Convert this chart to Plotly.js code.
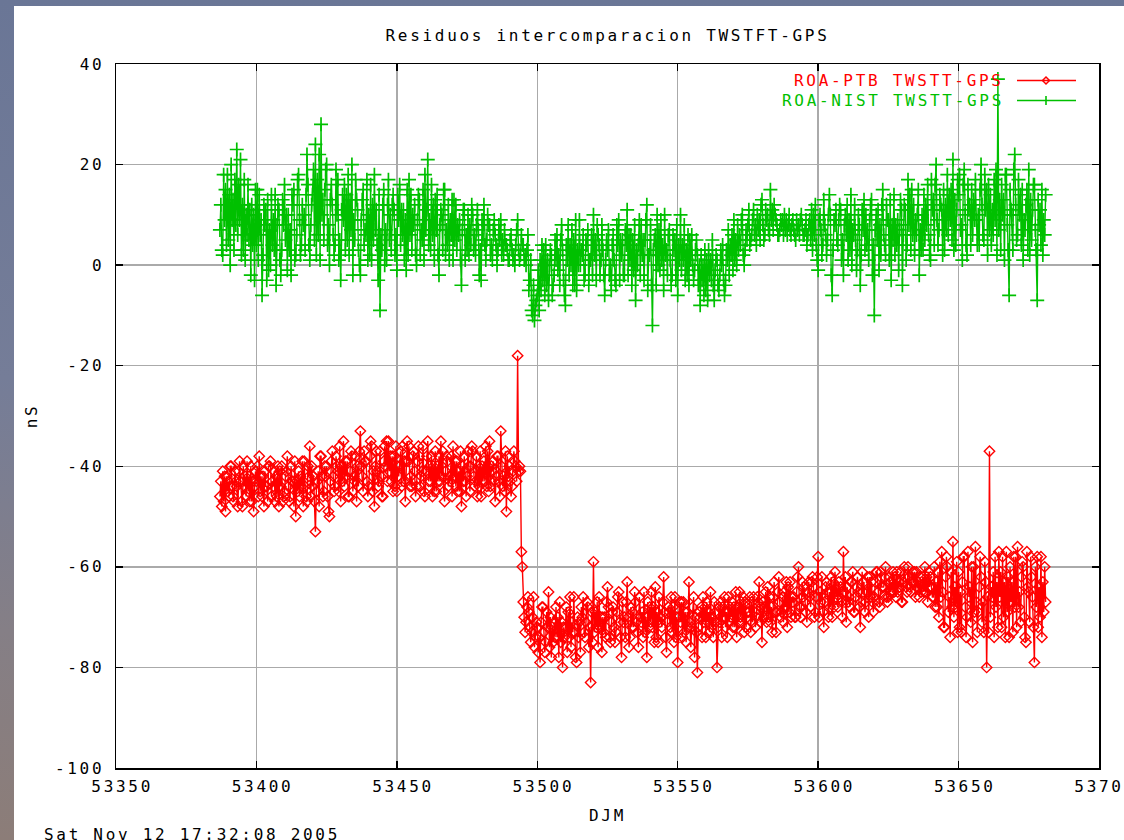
<!DOCTYPE html>
<html>
<head>
<meta charset="utf-8">
<script src="https://cdn.plot.ly/plotly-3.0.1.min.js"></script>
<style>
  html, body { margin:0; padding:0; width:1124px; height:840px; overflow:hidden;
    background: linear-gradient(to bottom, #6a7696 0%, #757d98 45%, #857f86 75%, #8c7d78 100%); }
  #chart { position:absolute; left:14px; top:6px; width:1110px; height:834px; }
  text { letter-spacing: 2.7px; }
</style>
</head>
<body>
<div id="chart"></div>
<script>
// ---- Data (MJD days, residuals in ns) ----
// Three samples per day: at the whole day, +1/3 day and +2/3 day.
const days = [
53387,53388,53389,53390,53391,53392,53393,53394,53395,53396,
53397,53398,53399,53400,53401,53402,53403,53404,53405,53406,
53407,53408,53409,53410,53411,53412,53413,53414,53415,53416,
53417,53418,53419,53420,53421,53422,53423,53424,53425,53426,
53427,53428,53429,53430,53431,53432,53433,53434,53435,53436,
53437,53438,53439,53440,53441,53442,53443,53444,53445,53446,
53447,53448,53449,53450,53451,53452,53453,53454,53455,53456,
53457,53458,53459,53460,53461,53462,53463,53464,53465,53466,
53467,53468,53469,53470,53471,53472,53473,53474,53475,53476,
53477,53478,53479,53480,53481,53482,53483,53484,53485,53486,
53487,53488,53489,53490,53491,53492,53493,53494,53495,53496,
53497,53498,53499,53500,53501,53502,53503,53504,53505,53506,
53507,53508,53509,53510,53511,53512,53513,53514,53515,53516,
53517,53518,53519,53520,53521,53522,53523,53524,53525,53526,
53527,53528,53529,53530,53531,53532,53533,53534,53535,53536,
53537,53538,53539,53540,53541,53542,53543,53544,53545,53546,
53547,53548,53549,53550,53551,53552,53553,53554,53555,53556,
53557,53558,53559,53560,53561,53562,53563,53564,53565,53566,
53567,53568,53569,53570,53571,53572,53573,53574,53575,53576,
53577,53578,53579,53580,53581,53582,53583,53584,53585,53586,
53587,53588,53589,53590,53591,53592,53593,53594,53595,53596,
53597,53598,53599,53600,53601,53602,53603,53604,53605,53606,
53607,53608,53609,53610,53611,53612,53613,53614,53615,53616,
53617,53618,53619,53620,53621,53622,53623,53624,53625,53626,
53627,53628,53629,53630,53631,53632,53633,53634,53635,53636,
53637,53638,53639,53640,53641,53642,53643,53644,53645,53646,
53647,53648,53649,53650,53651,53652,53653,53654,53655,53656,
53657,53658,53659,53660,53661,53662,53663,53664,53665,53666,
53667,53668,53669,53670,53671,53672,53673,53674,53675,53676,
53677,53678,53679,53680,53681
];

// ROA-PTB, first sample of each day
const roaPtb = [
-46,-41,-49,-43,-40,-47,-44,-39,-48,-42,
-45,-40,-49,-43,-38,-46,-41,-47,-39,-44,
-42,-48,-40,-45,-38,-46,-43,-50,-41,-44,
-39,-47,-36,-44,-53,-41,-38,-45,-40,-50,
-37,-44,-41,-47,-35,-42,-46,-38,-43,-40,
-33,-45,-39,-44,-36,-48,-41,-37,-46,-40,
-35,-43,-38,-45,-40,-36,-47,-39,-42,-37,
-44,-38,-41,-46,-35,-43,-40,-45,-38,-42,
-47,-39,-43,-36,-44,-41,-48,-38,-42,-45,
-37,-43,-40,-46,-39,-44,-35,-41,-47,-38,
-33,-42,-49,-40,-44,-39,-18,-41,-67,-71,
-69,-73,-76,-72,-79,-68,-75,-65,-78,-71,
-74,-67,-80,-72,-69,-76,-66,-79,-71,-70,
-74,-68,-83,-59,-72,-66,-77,-70,-64,-75,
-68,-73,-65,-78,-70,-63,-74,-69,-67,-76,
-71,-65,-78,-68,-72,-64,-75,-70,-62,-77,
-69,-73,-66,-79,-71,-67,-75,-63,-72,-78,
-81,-70,-66,-74,-69,-72,-67,-80,-71,-68,
-72,-66,-70,-68,-74,-65,-71,-67,-69,-73,
-66,-70,-63,-75,-68,-64,-71,-66,-73,-62,
-69,-65,-72,-63,-67,-70,-60,-68,-64,-71,
-66,-62,-69,-58,-67,-72,-63,-65,-70,-61,
-68,-64,-57,-71,-66,-63,-69,-62,-72,-65,
-67,-70,-63,-66,-61,-68,-64,-60,-66,-63,
-65,-61,-64,-67,-62,-60,-65,-63,-61,-66,
-64,-60,-67,-62,-66,-63,-70,-57,-72,-60,
-74,-55,-68,-61,-73,-58,-70,-64,-75,-56,
-69,-62,-73,-80,-37,-66,-58,-72,-61,-70,
-57,-74,-63,-68,-56,-71,-60,-75,-65,-62,
-79,-58,-70,-63,-67
];

// ROA-PTB, second sample (+1/3 day), 53387 .. 53680
const roaPtb2 = [
-43,-47,-42,-46,-44,-41,-48,-43,-40,-46,
-42,-47,-44,-40,-45,-42,-44,-40,-46,-41,
-46,-41,-47,-42,-44,-40,-48,-43,-46,-39,
-44,-40,-46,-42,-45,-48,-42,-40,-46,-43,
-42,-38,-45,-40,-44,-39,-41,-45,-38,-44,
-40,-37,-43,-38,-45,-40,-44,-42,-39,-35,
-41,-38,-44,-40,-37,-43,-39,-36,-44,-41,
-39,-44,-36,-41,-43,-38,-45,-40,-43,-37,
-41,-44,-38,-42,-39,-45,-40,-43,-37,-40,
-42,-38,-44,-40,-43,-37,-44,-39,-42,-43,
-40,-45,-38,-43,-41,-40,-41,-57,-70,-68,
-72,-70,-74,-77,-71,-73,-69,-76,-72,-74,
-70,-75,-72,-68,-74,-71,-73,-70,-77,-66,
-71,-76,-69,-73,-67,-72,-70,-74,-68,-71,
-72,-69,-71,-67,-74,-70,-68,-72,-71,-66,
-69,-73,-67,-71,-68,-74,-66,-72,-69,-71,
-72,-68,-74,-70,-67,-73,-69,-71,-68,-70,
-72,-68,-71,-67,-73,-70,-69,-72,-67,-70,
-69,-71,-67,-72,-68,-70,-66,-72,-69,-67,
-69,-66,-71,-67,-65,-70,-68,-63,-69,-67,
-66,-68,-64,-70,-66,-65,-68,-63,-67,-65,
-68,-64,-66,-70,-62,-67,-65,-68,-63,-66,
-63,-67,-65,-64,-68,-61,-66,-65,-67,-63,
-65,-62,-67,-63,-65,-61,-64,-66,-62,-65,
-62,-65,-61,-63,-64,-62,-63,-61,-64,-62,
-62,-65,-61,-64,-60,-68,-59,-65,-62,-69,
-61,-70,-59,-72,-63,-68,-57,-71,-60,-67,
-64,-71,-59,-66,-70,-61,-68,-57,-72,-63,
-69,-60,-73,-58,-68,-62,-70,-57,-71,-66,
-60,-72,-58,-69
];

// ROA-PTB, third sample (+2/3 day), 53387 .. 53680
const roaPtb3 = [
-48,-42,-45,-40,-46,-43,-41,-47,-44,-39,
-47,-43,-41,-46,-42,-48,-44,-40,-43,-47,
-40,-44,-46,-41,-47,-43,-39,-45,-42,-48,
-46,-42,-40,-47,-43,-38,-46,-42,-49,-39,
-45,-40,-36,-43,-39,-46,-37,-42,-47,-37,
-42,-39,-46,-35,-41,-37,-43,-46,-36,-43,
-38,-45,-36,-42,-44,-39,-35,-44,-38,-46,
-36,-42,-45,-38,-40,-46,-37,-43,-35,-45,
-38,-42,-46,-39,-45,-37,-43,-46,-40,-36,
-44,-46,-37,-43,-36,-45,-40,-43,-38,-46,
-44,-37,-42,-46,-37,-43,-40,-60,-73,-66,
-75,-66,-71,-74,-68,-77,-72,-70,-75,-68,
-78,-71,-74,-77,-66,-73,-78,-74,-68,-73,
-67,-72,-75,-69,-76,-70,-73,-67,-74,-69,
-75,-66,-74,-71,-67,-76,-72,-65,-73,-70,
-74,-70,-72,-65,-75,-69,-71,-67,-74,-68,
-66,-75,-70,-67,-74,-69,-72,-76,-66,-73,
-69,-74,-68,-71,-65,-74,-71,-68,-74,-66,
-74,-68,-72,-65,-71,-67,-73,-69,-66,-71,
-72,-67,-68,-70,-71,-66,-73,-69,-65,-70,
-71,-63,-69,-66,-70,-62,-70,-66,-69,-63,
-63,-70,-62,-65,-69,-64,-70,-62,-68,-64,
-66,-70,-62,-67,-63,-69,-64,-68,-61,-69,
-62,-66,-69,-61,-67,-64,-62,-67,-65,-61,
-66,-63,-67,-60,-65,-64,-61,-66,-63,-65,
-65,-62,-64,-66,-68,-61,-66,-72,-58,-66,
-68,-64,-73,-65,-58,-74,-66,-60,-69,-73,
-58,-67,-63,-73,-64,-74,-63,-66,-58,-74,
-62,-67,-58,-72,-65,-59,-74,-64,-58,-72,
-68,-64,-74,-60
];

// ROA-NIST, first sample of each day
const roaNist = [
7,2,15,5,20,3,23,9,12,1,
16,-2,10,4,14,-6,8,13,0,9,
-4,11,3,16,-1,7,12,2,18,4,
10,22,1,14,24,6,28,5,20,0,
12,4,17,-3,9,14,2,20,5,11,
-2,15,6,10,1,18,4,-9,12,7,
17,3,11,-1,16,6,9,2,14,8,
0,13,5,18,21,3,12,7,-2,10,
15,4,9,1,12,6,-4,11,3,8,
10,2,7,-3,12,5,8,1,6,3,
9,2,4,1,3,0,9,2,4,0,
-5,-9,-11,-6,1,-3,4,-7,2,-2,
6,-4,3,-8,8,0,5,-5,9,2,
-2,7,1,10,-3,4,8,-6,3,0,
6,-4,9,2,-2,11,1,5,-7,4,
8,-3,12,2,-12,6,0,9,-5,3,
7,-2,5,-6,10,1,3,-4,6,-1,
2,-8,0,-5,3,-3,-7,1,-2,4,
-4,7,2,9,0,6,10,3,8,5,
11,4,9,13,6,10,15,7,9,6,
8,10,6,7,9,5,8,10,6,4,
9,3,12,-1,7,13,2,14,-6,8,
4,11,-2,6,9,0,12,3,-4,7,
10,1,13,-10,5,8,15,2,9,-3,
14,4,7,-4,11,17,3,12,6,-2,
10,5,16,1,13,20,7,11,3,18,
9,21,4,14,8,19,2,12,6,17,
10,20,5,15,7,11,9,37,3,13,
18,-6,10,22,6,14,1,12,19,5,
16,-7,11,2,14
];

// ROA-NIST, second sample (+1/3 day), 53387 .. 53680
const roaNist2 = [
12,18,4,14,9,17,6,21,3,10,
5,12,-3,15,6,2,11,-1,14,3,
8,1,13,5,10,-2,15,6,9,12,
3,16,8,19,2,22,10,15,4,13,
6,19,1,11,16,5,13,-2,17,3,
9,4,17,2,12,7,-3,6,15,1,
5,12,2,14,4,11,-1,17,3,12,
9,2,15,7,4,16,1,14,8,3,
2,12,6,13,3,9,7,1,10,4,
3,8,-2,9,4,10,2,7,4,8,
2,7,3,5,1,4,3,6,1,3,
-3,-10,-8,-1,-5,3,-4,0,-6,5,
-1,5,-3,4,-2,7,-4,3,0,6,
5,-4,6,2,8,-2,3,1,7,-5,
1,8,-3,5,7,-2,6,-1,3,9,
2,5,-5,8,3,-4,7,1,10,-2,
1,6,-3,4,-1,8,-2,5,0,3,
-4,2,-6,1,-2,5,-1,-4,3,-3,
3,-2,6,1,8,4,2,7,11,6,
6,10,5,8,11,7,9,12,8,7,
9,7,8,6,7,9,6,8,7,6,
5,10,4,9,2,8,5,10,3,11,
9,1,8,12,3,7,5,10,2,13,
4,9,-2,7,11,2,6,12,1,8,
2,9,13,6,1,8,15,2,10,7,
3,12,6,17,4,9,14,2,12,6,
15,3,11,18,1,10,16,4,13,9,
4,12,18,2,14,6,19,7,16,1,
8,15,3,12,17,4,9,15,2,11,
7,13,4,9
];

// ROA-NIST, third sample (+2/3 day), 53387 .. 53680
const roaNist3 = [
3,9,18,0,13,8,16,2,17,6,
11,4,15,1,9,12,-3,7,4,14,
12,-2,8,10,3,14,1,17,2,8,
14,4,12,5,17,1,13,19,8,16,
2,10,5,14,3,18,7,9,13,0,
13,7,1,16,5,11,14,3,0,12,
10,14,6,9,11,1,15,6,10,2,
14,7,1,11,9,6,13,2,11,15,
7,1,13,5,8,1,11,6,2,12,
6,11,3,5,1,8,4,9,0,5,
5,4,1,6,2,7,1,4,2,6,
1,-4,-7,-9,4,-6,1,3,-4,1,
2,8,-6,1,4,-4,9,0,3,-3,
4,1,-2,5,6,1,-2,5,-2,4,
-3,4,5,-2,4,6,-4,8,0,-2,
5,9,2,-4,5,10,-1,4,2,6,
-4,3,8,1,4,-3,6,1,-3,5,
0,-3,3,-7,1,-4,2,-5,0,-6,
1,4,-1,5,3,9,0,5,4,9,
8,7,12,5,9,6,11,10,6,9,
6,9,10,8,6,7,9,6,9,8,
11,6,1,10,4,6,10,-2,9,5,
12,5,10,1,14,6,-1,8,11,3,
7,12,4,10,-1,12,4,9,13,5,
8,-1,11,12,4,14,6,9,15,3,
14,8,2,11,16,4,12,15,7,14,
5,13,17,7,16,4,11,15,9,4,
15,6,11,16,4,17,2,13,10,18,
3,11,19,5,10,15,7,3,13,16,
3,8,15,6
];

const seriesNames = ['ROA-PTB TWSTT-GPS', 'ROA-NIST TWSTT-GPS'];
const seriesColors = ['#ff0000', '#00c000'];
const xTicks = [53350, 53400, 53450, 53500, 53550, 53600, 53650, 53700];
const yTicks = [-100, -80, -60, -40, -20, 0, 20, 40];
const titleText = 'Residuos intercomparacion TWSTFT-GPS';
const xLabel = 'DJM';
const yLabel = 'nS';
const stampText = 'Sat Nov 12 17:32:08 2005';

// merge the three samples of each day in time order
function merge(v1, v2, v3) {
  const x = [], y = [];
  days.forEach((d, i) => {
    x.push(d); y.push(v1[i]);
    if (i < v2.length) { x.push(d + 1/3); y.push(v2[i]); }
    if (i < v3.length) { x.push(d + 2/3); y.push(v3[i]); }
  });
  return { x, y };
}
const ptb = merge(roaPtb, roaPtb2, roaPtb3);
const nist = merge(roaNist, roaNist2, roaNist3);

// ---- Layout geometry (div placed at page offset 14,6) ----
const W = 1110, H = 834;
const M = { l: 102, r: 25, t: 58, b: 72 };
const PW = W - M.l - M.r, PH = H - M.t - M.b;
const OX = 14, OY = 6;
const px = p => (p - OX - M.l) / PW;          // page x -> paper x
const py = p => (H - M.b - (p - OY)) / PH;    // page y -> paper y

const FONT = 'DejaVu Sans Mono, Liberation Mono, monospace';

const traces = [
  { x: ptb.x, y: ptb.y, name: seriesNames[0], type: 'scatter', mode: 'lines+markers',
    line: { color: seriesColors[0], width: 1.4 },
    marker: { symbol: 'diamond-open', size: 8, color: seriesColors[0], line: { width: 1.4, color: seriesColors[0] } } },
  { x: nist.x, y: nist.y, name: seriesNames[1], type: 'scatter', mode: 'lines+markers',
    line: { color: seriesColors[1], width: 1.4 },
    marker: { symbol: 'cross-thin-open', size: 10, color: seriesColors[1], line: { width: 1.7, color: seriesColors[1] } } }
];

// legend sample (gnuplot style: text, then line with point)
const legY = [80.5, 100.5];
const legX0 = 1017, legX1 = 1076, legXm = 1046, legTextX = 1006;
const shapes = [], annotations = [];
seriesNames.forEach((n, i) => {
  shapes.push({ type: 'line', xref: 'paper', yref: 'paper', x0: px(legX0), x1: px(legX1),
    y0: py(legY[i]), y1: py(legY[i]), line: { color: seriesColors[i], width: 1.6 } });
  annotations.push({ xref: 'paper', yref: 'paper', x: px(legTextX), y: py(legY[i]),
    xanchor: 'right', yanchor: 'middle', showarrow: false, text: n,
    font: { family: FONT, size: 16, color: seriesColors[i] } });
});
const dx = 1 / PW, dy = 1 / PH;
const mx = px(legXm);
const ry = py(legY[0]), gy = py(legY[1]);
shapes.push({ type: 'path', xref: 'paper', yref: 'paper',
  path: `M ${mx - 3.5*dx} ${ry} L ${mx} ${ry + 3.5*dy} L ${mx + 3.5*dx} ${ry} L ${mx} ${ry - 3.5*dy} Z`,
  line: { color: seriesColors[0], width: 1.5 }, fillcolor: 'rgba(0,0,0,0)' });
shapes.push({ type: 'line', xref: 'paper', yref: 'paper', x0: mx, x1: mx,
  y0: gy - 4.5*dy, y1: gy + 4.5*dy, line: { color: seriesColors[1], width: 1.6 } });

annotations.push({ xref: 'paper', yref: 'paper', x: px(42), y: py(834), xanchor: 'left', yanchor: 'middle',
  showarrow: false, text: stampText, font: { family: FONT, size: 16, color: '#000' } });

const axisCommon = {
  showline: true, linecolor: '#000', linewidth: 1.5, mirror: 'ticks',
  ticks: 'inside', ticklen: 7, tickwidth: 1.5, tickcolor: '#000',
  showgrid: true, gridcolor: '#aaaaaa', gridwidth: 1.5, zeroline: false,
  tickfont: { family: FONT, size: 16, color: '#000' }
};

const layout = {
  width: W, height: H,
  margin: M,
  paper_bgcolor: '#ffffff', plot_bgcolor: '#ffffff',
  showlegend: false,
  title: { text: titleText, x: 0.5, xref: 'paper', xanchor: 'center', y: py(32), yref: 'paper', yanchor: 'middle',
    font: { family: FONT, size: 16, color: '#000' } },
  xaxis: Object.assign({}, axisCommon, {
    range: [53350, 53700], tickvals: xTicks, ticktext: xTicks.map(v => '\u00a0' + v),
    ticklabelstandoff: 3, ticklabeloverflow: 'allow',
    title: { text: xLabel, standoff: 15, font: { family: FONT, size: 16, color: '#000' } }
  }),
  yaxis: Object.assign({}, axisCommon, {
    range: [-100, 40], tickvals: yTicks, ticktext: yTicks.map(String),
    ticklabelstandoff: 7,
    title: { text: yLabel, standoff: 13, font: { family: FONT, size: 16, color: '#000' } }
  }),
  shapes: shapes,
  annotations: annotations
};

Plotly.newPlot('chart', traces, layout, { staticPlot: true, displayModeBar: false });
</script>
</body>
</html>
